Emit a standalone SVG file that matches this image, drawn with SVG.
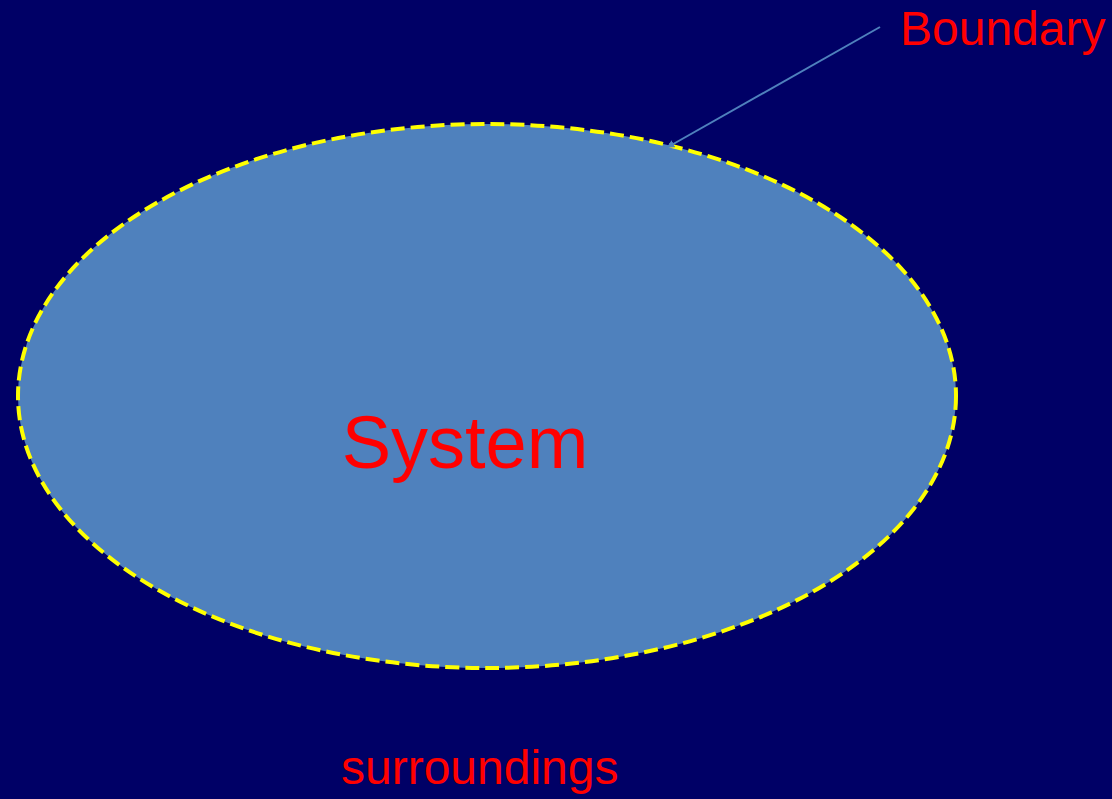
<svg xmlns="http://www.w3.org/2000/svg" width="1112" height="799" viewBox="0 0 1112 799">
<style>
.lbl{font-family:"Liberation Sans",Arial,sans-serif;fill:#ff0000}
</style>
<defs>
<marker id="ah" viewBox="0 0 10 10" refX="8" refY="5" markerWidth="4" markerHeight="4" orient="auto">
<path d="M0,0 L10,5 L0,10 z" fill="#4f81bd"/>
</marker>
</defs>
<rect width="1112" height="799" fill="#000066"/>
<g id="system">
<ellipse cx="487" cy="396" rx="469" ry="272" fill="#4f81bd" stroke="#ffff00" stroke-width="4" stroke-dasharray="14 6"/>
<text class="lbl" x="465" y="468" font-size="74" text-anchor="middle">System</text>
</g>
<g id="connectors">
<line x1="880" y1="27" x2="668" y2="147" stroke="#4f81bd" stroke-width="2" marker-end="url(#ah)"/>
</g>
<g id="boundary">
<text class="lbl" x="900" y="45" font-size="48">Boundary</text>
</g>
<g id="surroundings">
<text class="lbl" x="341" y="784" font-size="48">surroundings</text>
</g>
</svg>
